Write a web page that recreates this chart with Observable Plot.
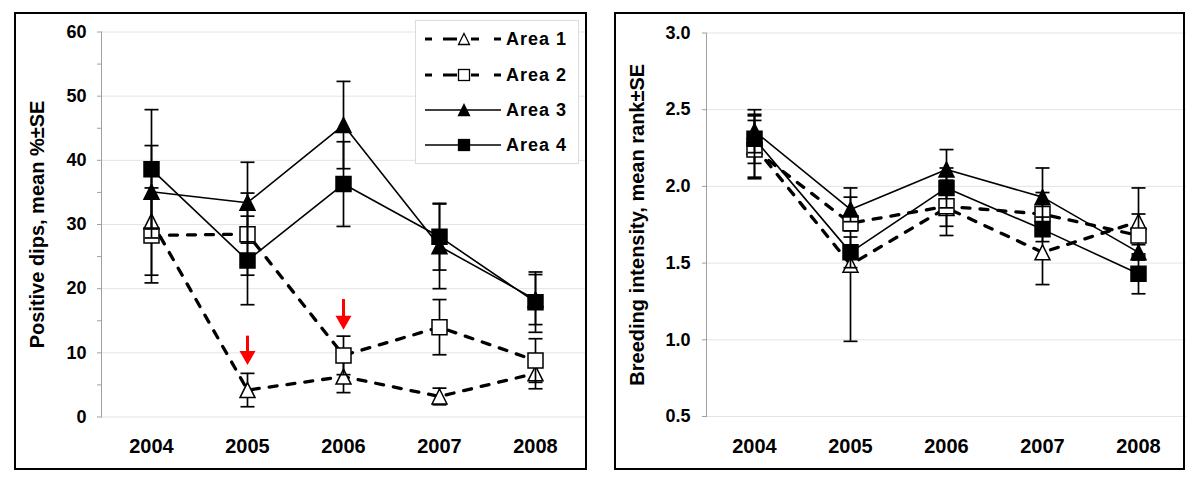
<!DOCTYPE html>
<html><head><meta charset="utf-8">
<script src="https://cdn.jsdelivr.net/npm/d3@7"></script>
<script src="https://cdn.jsdelivr.net/npm/@observablehq/plot@0.6"></script>
<style>
html,body{margin:0;padding:0;background:#fff;}
#wrap{position:relative;width:1200px;height:492px;overflow:hidden;font-family:"Liberation Sans",Arial,sans-serif;}
.panel{position:absolute;top:0;}
.box{position:absolute;border:2px solid #000;box-sizing:border-box;pointer-events:none;}
#legend{position:absolute;left:415px;top:20px;}
</style></head><body><div id="wrap"></div>
<script>
// ---------- data ----------
const years = ["2004","2005","2006","2007","2008"];
const areas = ["Area 1","Area 2","Area 3","Area 4"];

// Left panel: positive dips, mean % ± SE
const dipsArea1 = [30.5, 4.2, 6.3, 3.2, 6.8];
const dipsArea1SE = [8.4, 2.6, 2.5, 1.3, 2.4];
const dipsArea2 = [28.3, 28.5, 9.6, 14.0, 8.8];
const dipsArea2SE = [7.4, 6.4, 3.0, 4.3, 3.4];
const dipsArea3 = [35.1, 33.4, 45.5, 26.6, 18.3];
const dipsArea3SE = [7.2, 6.3, 6.8, 6.6, 3.9];
const dipsArea4 = [38.6, 24.4, 36.3, 28.1, 17.9];
const dipsArea4SE = [9.3, 6.9, 6.6, 5.2, 4.7];
const dipsTicks = [0, 5, 10, 15, 20, 25, 30, 35, 40, 45, 50, 55, 60];
const dipsGrid = [0, 10, 20, 30, 40, 50, 60];

// red arrows (left panel)
const arrowYears = ["2005", "2006"];
const arrowTop = [12.6, 18.3];
const arrowTip = [8.1, 13.6];

// Right panel: breeding intensity, mean rank ± SE
const rankArea1 = [2.26, 1.49, 1.86, 1.57, 1.77];
const rankArea1SE = [0.20, 0.50, 0.18, 0.21, 0.22];
const rankArea2 = [2.24, 1.76, 1.87, 1.82, 1.68];
const rankArea2SE = [0.19, 0.05, 0.13, 0.14, 0.14];
const rankArea3 = [2.36, 1.85, 2.11, 1.93, 1.57];
const rankArea3SE = [0.14, 0.08, 0.13, 0.19, 0.05];
const rankArea4 = [2.31, 1.57, 1.99, 1.72, 1.43];
const rankArea4SE = [0.16, 0.10, 0.13, 0.08, 0.13];
const rankTicks = [0.5, 1.0, 1.5, 2.0, 2.5, 3.0];

// ---------- helpers ----------
const FONT = '"Liberation Sans", Arial, sans-serif';
function rows(means, ses) {
  return years.map((y, i) => ({year: y, mean: means[i], lo: means[i] - ses[i], hi: means[i] + ses[i]}));
}
const triSym = {draw(c){ c.moveTo(0,-7.5); c.lineTo(7.5,7.5); c.lineTo(-7.5,7.5); c.closePath(); }};
const sqSym = {draw(c){ c.moveTo(-7.5,-7.5); c.lineTo(7.5,-7.5); c.lineTo(7.5,7.5); c.lineTo(-7.5,7.5); c.closePath(); }};
const capSym = {draw(c){ c.moveTo(-7,0); c.lineTo(7,0); }};
const headSym = {draw(c){ c.moveTo(0,0); c.lineTo(-8,-14); c.lineTo(8,-14); c.closePath(); }};

const seriesStyle = [
  {dashed: true, filled: false, sym: triSym},
  {dashed: true, filled: false, sym: sqSym},
  {dashed: false, filled: true, sym: triSym},
  {dashed: false, filled: true, sym: sqSym}
];

function seriesMarks(data, st) {
  const lineOpts = {x: "year", y: "mean", stroke: "#000", strokeWidth: st.dashed ? 3.3 : 1.6};
  if (st.dashed) lineOpts.strokeDasharray = "8,10";
  return [
    Plot.line(data, lineOpts),
    Plot.ruleX(data, {x: "year", y1: "lo", y2: "hi", stroke: "#000", strokeWidth: 1.7}),
    Plot.dot(data, {x: "year", y: "lo", symbol: capSym, r: 5, fill: "none", stroke: "#000", strokeWidth: 1.7}),
    Plot.dot(data, {x: "year", y: "hi", symbol: capSym, r: 5, fill: "none", stroke: "#000", strokeWidth: 1.7}),
    Plot.dot(data, {x: "year", y: "mean", symbol: st.sym, r: 5, fill: st.filled ? "#000" : "#fff", stroke: "#000", strokeWidth: 1.5})
  ];
}

function panel({left, width, ml, mr, mt, mb, domain, ticks, grid, fmt, tickPad, title, titleDx, seriesData, extra}) {
  const marks = [
    Plot.gridY(grid, {stroke: "#e4e4e4", strokeOpacity: 1, strokeWidth: 1}),
    Plot.frame({anchor: "left", stroke: "#a0a0a0", strokeWidth: 1}),
    Plot.axisY(ticks, {tickSize: 4, tickPadding: tickPad, tickFormat: fmt, stroke: "#a0a0a0", fill: "#000",
      fontSize: 18, fontWeight: "bold", label: null}),
    Plot.axisX({tickSize: 0, tickPadding: 22, fontSize: 20, fontWeight: "bold", fill: "#000", label: null}),
    Plot.text([title], {text: d => d, frameAnchor: "left", textAnchor: "middle", lineAnchor: "middle", dx: titleDx, rotate: -90, fontSize: 20, fontWeight: "bold", fill: "#000"})
  ];
  seriesData.forEach((d, i) => marks.push(...seriesMarks(d, seriesStyle[i])));
  if (extra) marks.push(...extra);
  const svg = Plot.plot({
    width, height: 492, marginLeft: ml, marginRight: mr, marginTop: mt, marginBottom: mb,
    style: {fontFamily: FONT, background: "transparent", overflow: "visible"},
    x: {type: "point", domain: years, padding: 0.5},
    y: {domain},
    marks
  });
  const div = document.createElement("div");
  div.className = "panel";
  div.style.left = left + "px";
  div.appendChild(svg);
  return div;
}

const wrap = document.getElementById("wrap");

// left
const dipsData = [rows(dipsArea1, dipsArea1SE), rows(dipsArea2, dipsArea2SE), rows(dipsArea3, dipsArea3SE), rows(dipsArea4, dipsArea4SE)];
const arrows = arrowYears.map((y, i) => ({year: y, top: arrowTop[i], tip: arrowTip[i]}));
wrap.appendChild(panel({
  left: 0, width: 600, ml: 101, mr: 15, mt: 31.5, mb: 75.5,
  domain: [0, 60], ticks: dipsTicks, grid: dipsGrid,
  fmt: d => (d % 10 === 0 ? String(d) : ""), tickPad: 11,
  title: "Positive dips, mean %±SE", titleDx: -63.5,
  seriesData: dipsData,
  extra: [
    Plot.ruleX(arrows, {x: "year", y1: "top", y2: "tip", insetBottom: 8, stroke: "#ff0000", strokeWidth: 3}),
    Plot.dot(arrows, {x: "year", y: "tip", symbol: headSym, r: 5, fill: "#ff0000", stroke: "none"})
  ]
}));

// right
const rankData = [rows(rankArea1, rankArea1SE), rows(rankArea2, rankArea2SE), rows(rankArea3, rankArea3SE), rows(rankArea4, rankArea4SE)];
wrap.appendChild(panel({
  left: 600, width: 600, ml: 106, mr: 14, mt: 32.5, mb: 76,
  domain: [0.5, 3], ticks: rankTicks, grid: rankTicks,
  fmt: d3.format(".1f"), tickPad: 12,
  title: "Breeding intensity, mean rank±SE", titleDx: -69,
  seriesData: rankData
}));

// panel borders
[[14, 12, 573, 458], [614, 12, 571, 458]].forEach(([l, t, w, h]) => {
  const b = document.createElement("div");
  b.className = "box";
  Object.assign(b.style, {left: l + "px", top: t + "px", width: w + "px", height: h + "px"});
  wrap.appendChild(b);
});

// legend (inside left panel)
const NS = "http://www.w3.org/2000/svg";
const lg = document.createElementNS(NS, "svg");
lg.setAttribute("id", "legend");
lg.setAttribute("width", 165);
lg.setAttribute("height", 145);
function el(name, attrs, parent) {
  const e = document.createElementNS(NS, name);
  for (const k in attrs) e.setAttribute(k, attrs[k]);
  (parent || lg).appendChild(e);
  return e;
}
el("rect", {x: 0.5, y: 0.5, width: 163, height: 143, fill: "#fff", stroke: "#dcdcdc", "stroke-width": 1});
const rowY = [19, 55, 90, 125];
areas.forEach((name, i) => {
  const st = seriesStyle[i];
  const y = rowY[i];
  if (st.dashed) {
    [[10, 17], [28, 42], [56, 64], [79, 86]].forEach(([a, b]) =>
      el("line", {x1: a, x2: b, y1: y, y2: y, stroke: "#000", "stroke-width": 3}));
  } else {
    el("line", {x1: 10, x2: 86, y1: y, y2: y, stroke: "#000", "stroke-width": 1.7});
  }
  const cx = 49, s = 5.5;
  const fill = st.filled ? "#000" : "#fff";
  if (st.sym === triSym) {
    el("path", {d: `M${cx},${y - s}L${cx + s},${y + s}L${cx - s},${y + s}Z`, fill, stroke: "#000", "stroke-width": 1.3});
  } else {
    el("rect", {x: cx - s, y: y - s, width: 2 * s, height: 2 * s, fill, stroke: "#000", "stroke-width": 1.3});
  }
  const t = el("text", {x: 91, y: y, "dominant-baseline": "central", "font-family": FONT, "font-size": 18,
    "font-weight": "bold", "letter-spacing": "1px", fill: "#000"});
  t.textContent = name;
});
wrap.appendChild(lg);
</script>
</body></html>
